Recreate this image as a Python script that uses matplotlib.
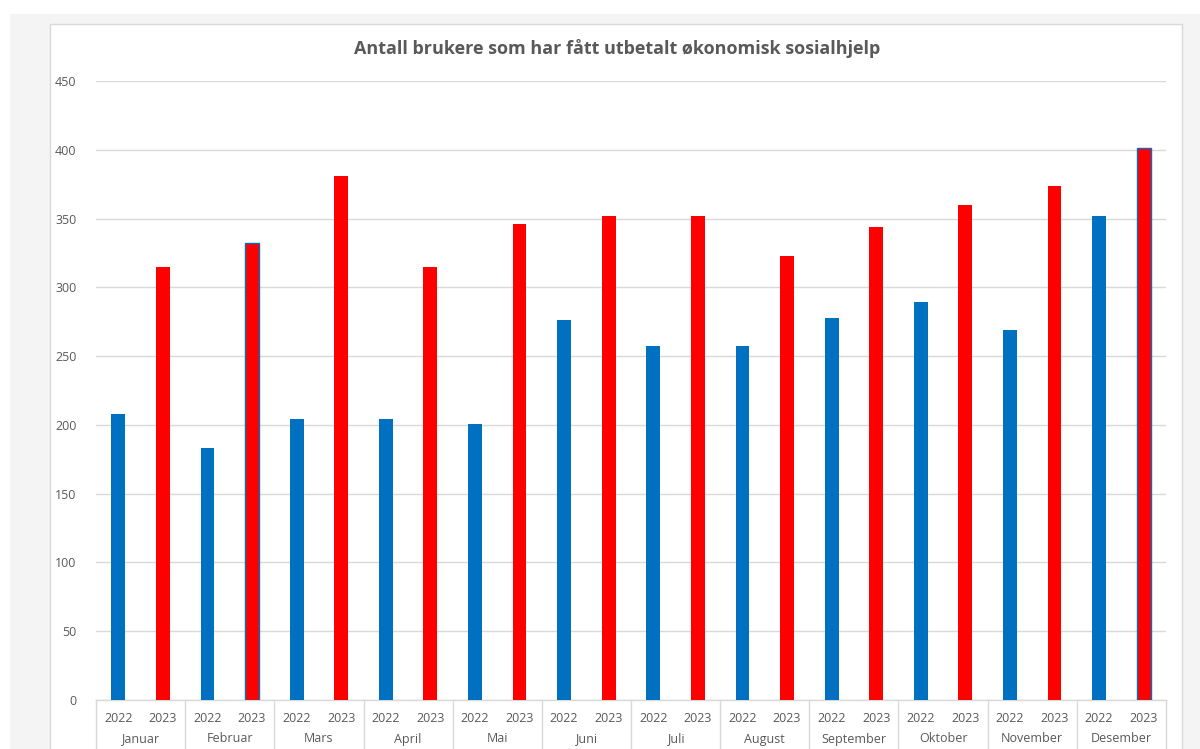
import numpy as np
import matplotlib
matplotlib.use("Agg")
import matplotlib.pyplot as plt
from matplotlib.patches import Rectangle

months = ['Januar', 'Februar', 'Mars', 'April', 'Mai', 'Juni', 'Juli',
          'August', 'September', 'Oktober', 'November', 'Desember']
years = ['2022', '2023']
v2022 = [208, 183, 204, 204, 201, 276, 257, 257, 278, 289, 269, 352]
v2023 = [315, 332, 381, 315, 346, 352, 352, 323, 344, 360, 374, 401]
# 2023 bars that have a blue outline in the original
outlined = ['Februar', 'Desember']

blue = '#0070C0'
red = '#FF0000'
txt = '#595959'
grid = '#d9d9d9'

W, H = 1200, 749
fig = plt.figure(figsize=(W / 100, H / 100), dpi=100, facecolor='white')

# background panels (Excel-like frame)
fig.patches.append(Rectangle((10 / W, 0), 1 - 10 / W, 1 - 14 / H, transform=fig.transFigure,
                             facecolor='#f4f4f4', edgecolor='none', zorder=-3))
fig.patches.append(Rectangle((50 / W, -0.01), (1182 - 50) / W, 1 - 24 / H + 0.01, transform=fig.transFigure,
                             facecolor='white', edgecolor=grid, lw=1, zorder=-2))

x0, x1, ytop, ybot = 96, 1166, 81, 700
ax = fig.add_axes([x0 / W, 1 - ybot / H, (x1 - x0) / W, (ybot - ytop) / H])
ax.set_facecolor('none')

n = len(months)
pos22 = np.arange(n) * 2 + 0.5
pos23 = np.arange(n) * 2 + 1.5
bw = 0.31
ax.bar(pos22, v2022, width=bw, color=blue, zorder=3)
ec = [blue if m in outlined else red for m in months]
lws = [1.0 if m in outlined else 0 for m in months]
ax.bar(pos23, v2023, width=bw, color=red, edgecolor=ec, linewidth=lws, zorder=3)

ax.set_xlim(0, 2 * n)
ax.set_ylim(0, 450)
ax.set_yticks(np.arange(0, 451, 50))
ax.yaxis.grid(True, color=grid, lw=1)
ax.set_axisbelow(True)
for s in ax.spines.values():
    s.set_visible(False)
ax.tick_params(axis='y', length=0, pad=14, labelsize=9, labelcolor=txt)
ax.set_yticklabels([str(v) for v in range(0, 451, 50)], fontfamily='Open Sans')
ax.set_xticks([])

# two-level category axis
tr = ax.get_xaxis_transform()
ax.plot([0, 2 * n], [0, 0], color=grid, lw=1, transform=tr, clip_on=False)
ylow = -(H - ybot + 5) / (ybot - ytop)
for k in range(n + 1):
    ax.plot([2 * k, 2 * k], [0, ylow], color=grid, lw=1, transform=tr, clip_on=False)
yr_y = -18 / (ybot - ytop)
mo_y = -39 / (ybot - ytop)
for i, m in enumerate(months):
    ax.text(pos22[i], yr_y, years[0], transform=tr, ha='center', va='center',
            fontsize=9, color=txt, fontfamily='Open Sans')
    ax.text(pos23[i], yr_y, years[1], transform=tr, ha='center', va='center',
            fontsize=9, color=txt, fontfamily='Open Sans')
    ax.text(2 * i + 1, mo_y, m, transform=tr, ha='center', va='center',
            fontsize=9, color=txt, fontfamily='Open Sans')

fig.text(617 / W, 1 - 49 / H, 'Antall brukere som har fått utbetalt økonomisk sosialhjelp',
         ha='center', va='center', fontsize=13, fontweight='bold', color=txt, fontfamily='Open Sans')

fig.savefig('out.png', dpi=100, facecolor=fig.get_facecolor())
